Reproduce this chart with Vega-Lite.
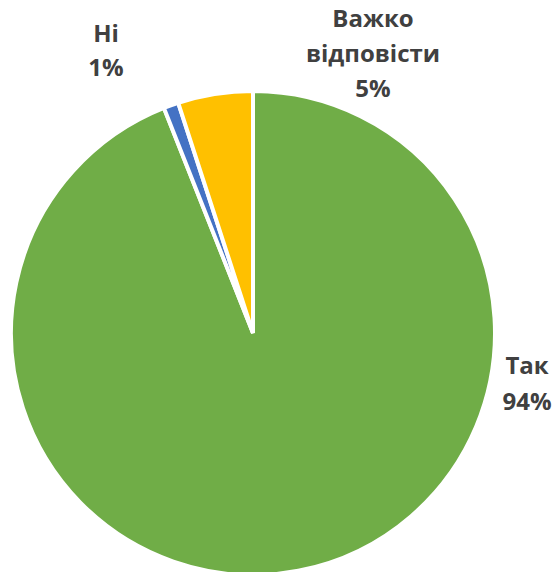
{
  "$schema": "https://vega.github.io/schema/vega-lite/v6.json",
  "width": 480,
  "height": 480,
  "autosize": "none",
  "padding": {"left": 13, "top": 93, "right": 62, "bottom": 0},
  "background": "white",
  "view": {"stroke": null},
  "data": {
    "values": [
      {"cat": "Так", "value": 94, "label": "Так\n94%"},
      {"cat": "Ні", "value": 1, "label": "Ні\n1%"},
      {"cat": "Важко відповісти", "value": 5, "label": "Важко\nвідповісти\n5%"}
    ]
  },
  "encoding": {
    "theta": {"field": "value", "type": "quantitative", "stack": true},
    "order": {"field": "cat", "sort": "descending"}
  },
  "layer": [
    {
      "mark": {"type": "arc", "outerRadius": 242, "stroke": "white", "strokeWidth": 4},
      "encoding": {
        "color": {
          "field": "cat",
          "type": "nominal",
          "scale": {"domain": ["Так", "Ні", "Важко відповісти"], "range": ["#70AD47", "#4472C4", "#FFC000"]},
          "legend": null
        }
      }
    },
    {
      "mark": {"type": "text", "radius": 0, "dx": 274, "dy": 34, "font": "Open Sans", "fontWeight": "bold", "fontSize": 24, "lineBreak": "\n", "lineHeight": 36, "align": "center", "baseline": "middle", "fill": "#404040"},
      "encoding": {
        "detail": {"field": "cat", "type": "nominal"},
        "text": {"condition": {"test": "datum.cat === 'Так'", "field": "label"}, "value": ""}
      }
    },
    {
      "mark": {"type": "text", "radius": 0, "dx": -147, "dy": -298, "font": "Open Sans", "fontWeight": "bold", "fontSize": 24, "lineBreak": "\n", "lineHeight": 34, "align": "center", "baseline": "middle", "fill": "#404040"},
      "encoding": {
        "detail": {"field": "cat", "type": "nominal"},
        "text": {"condition": {"test": "datum.cat === 'Ні'", "field": "label"}, "value": ""}
      }
    },
    {
      "mark": {"type": "text", "radius": 0, "dx": 120, "dy": -313, "font": "Open Sans", "fontWeight": "bold", "fontSize": 24, "lineBreak": "\n", "lineHeight": 35, "align": "center", "baseline": "middle", "fill": "#404040"},
      "encoding": {
        "detail": {"field": "cat", "type": "nominal"},
        "text": {"condition": {"test": "datum.cat === 'Важко відповісти'", "field": "label"}, "value": ""}
      }
    }
  ]
}
